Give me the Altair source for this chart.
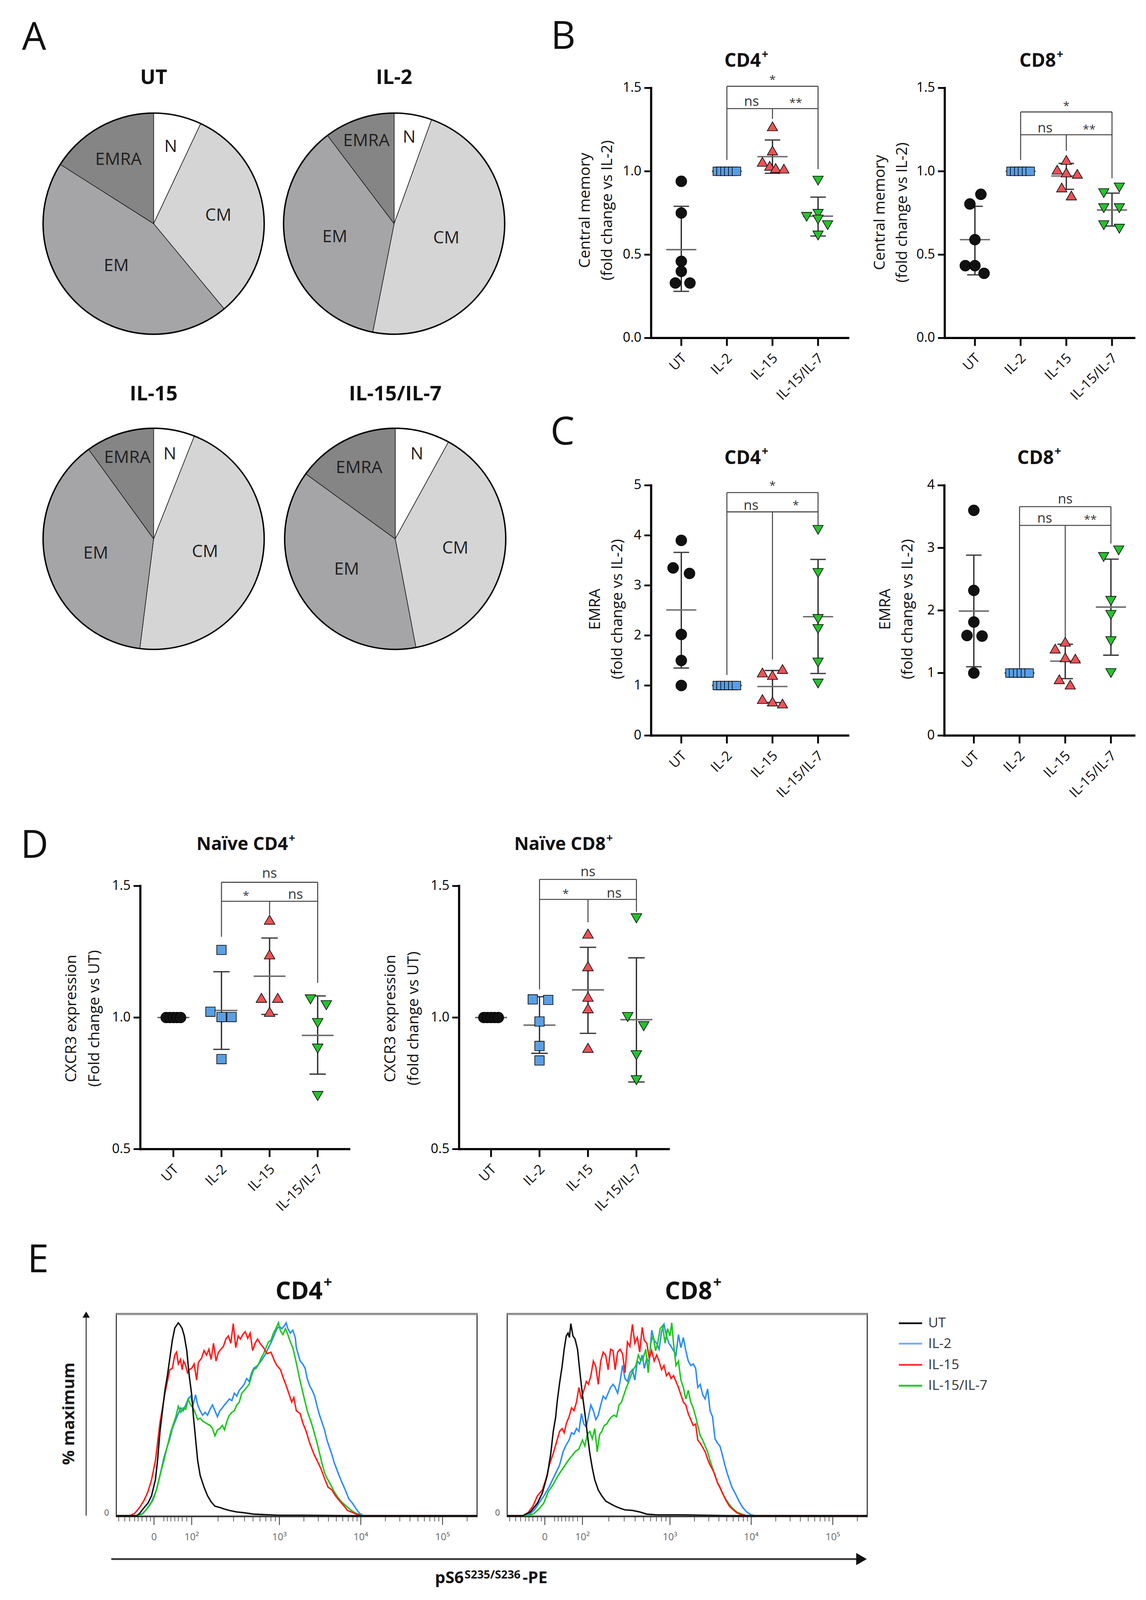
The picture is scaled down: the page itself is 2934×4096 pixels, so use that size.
import math
import altair as alt
import pandas as pd

# ============================================================ data
groups = ["UT", "IL-2", "IL-15", "IL-15/IL-7"]
subsets = ["N", "CM", "EM", "EMRA"]

# A: subset composition (% of cells)
pie_UT = [7.0, 32.0, 45.0, 16.0]
pie_IL2 = [5.5, 47.6, 36.6, 10.3]
pie_IL15 = [6.0, 46.0, 38.0, 10.0]
pie_IL15_IL7 = [8.0, 39.0, 38.0, 15.0]

# B: central memory (fold change vs IL-2)
cm_cd4 = [[0.94, 0.75, 0.46, 0.40, 0.33, 0.33],
          [1.0, 1.0, 1.0, 1.0, 1.0, 1.0],
          [1.27, 1.125, 1.057, 1.033, 1.02, 1.016],
          [0.944, 0.727, 0.745, 0.711, 0.677, 0.615]]
cm_cd4_mean = [0.53, 1.0, 1.088, 0.731]
cm_cd4_lo = [0.28, 1.0, 0.988, 0.612]
cm_cd4_hi = [0.79, 1.0, 1.188, 0.845]

cm_cd8 = [[0.862, 0.804, 0.59, 0.434, 0.434, 0.388],
          [1.0, 1.0, 1.0, 1.0, 1.0, 1.0],
          [1.068, 1.01, 0.993, 0.985, 0.903, 0.855],
          [0.869, 0.903, 0.779, 0.779, 0.677, 0.656]]
cm_cd8_mean = [0.59, 1.0, 0.972, 0.768]
cm_cd8_lo = [0.379, 1.0, 0.892, 0.672]
cm_cd8_hi = [0.79, 1.0, 1.047, 0.869]

# C: EMRA (fold change vs IL-2)
emra_cd4 = [[3.90, 3.35, 3.24, 2.02, 1.50, 1.00],
            [1.0, 1.0, 1.0, 1.0, 1.0, 1.0],
            [1.33, 1.26, 1.21, 0.73, 0.68, 0.64],
            [4.11, 3.25, 2.33, 2.13, 1.46, 1.04]]
emra_cd4_mean = [2.51, 1.0, 0.98, 2.375]
emra_cd4_lo = [1.35, 1.0, 0.66, 1.24]
emra_cd4_hi = [3.66, 1.0, 1.30, 3.52]

emra_cd8 = [[3.60, 2.32, 1.815, 1.60, 1.59, 1.0],
            [1.0, 1.0, 1.0, 1.0, 1.0, 1.0],
            [1.50, 1.39, 1.25, 1.23, 0.90, 0.815],
            [2.96, 2.855, 2.154, 1.93, 1.51, 1.0]]
emra_cd8_mean = [1.99, 1.0, 1.19, 2.054]
emra_cd8_lo = [1.10, 1.0, 0.91, 1.285]
emra_cd8_hi = [2.885, 1.0, 1.46, 2.82]

# D: CXCR3 expression (fold change vs UT)
cx_cd4 = [[1.0, 1.0, 1.0, 1.0, 1.0],
          [1.257, 1.022, 1.002, 1.002, 0.842],
          [1.372, 1.24, 1.075, 1.075, 1.022],
          [1.069, 1.047, 0.979, 0.882, 0.702]]
cx_cd4_mean = [1.0, 1.027, 1.157, 0.932]
cx_cd4_lo = [1.0, 0.879, 1.012, 0.785]
cx_cd4_hi = [1.0, 1.174, 1.302, 1.082]

cx_cd8 = [[1.0, 1.0, 1.0, 1.0, 1.0],
          [1.069, 1.067, 0.985, 0.892, 0.837],
          [1.319, 1.195, 1.079, 1.035, 0.885],
          [1.377, 1.002, 0.967, 0.857, 0.762]]
cx_cd8_mean = [1.0, 0.971, 1.105, 0.992]
cx_cd8_lo = [1.0, 0.864, 0.94, 0.755]
cx_cd8_hi = [1.0, 1.079, 1.267, 1.227]

# significance annotations (x in group index, y in data units)
sig_cm_cd4 = {"top": 1.51, "mid": 1.376, "legs": [(1, 1.51, 1.068), (3, 1.51, 1.013), (2, 1.376, 1.315)],
              "labels": [(2.0, 1.548, "*"), (1.54, 1.418, "ns"), (2.51, 1.408, "**")]}
sig_cm_cd8 = {"top": 1.356, "mid": 1.219, "legs": [(1, 1.356, 1.068), (3, 1.356, 0.958), (2, 1.219, 1.123)],
              "labels": [(2.0, 1.39, "*"), (1.535, 1.26, "ns"), (2.5, 1.25, "**")]}
sig_emra_cd4 = {"top": 4.856, "mid": 4.47, "legs": [(1, 4.856, 1.21), (3, 4.856, 4.19), (2, 4.47, 1.52)],
                "labels": [(2.0, 4.99, "*"), (1.53, 4.6, "ns"), (2.51, 4.6, "*")]}
sig_emra_cd8 = {"top": 3.66, "mid": 3.36, "legs": [(1, 3.66, 1.03), (3, 3.66, 3.07), (2, 3.36, 1.565)],
                "labels": [(2.0, 3.78, "ns"), (1.55, 3.47, "ns"), (2.55, 3.45, "**")]}
sig_cx_cd4 = {"top": 1.514, "mid": 1.442, "legs": [(1, 1.514, 1.307), (3, 1.514, 1.132), (2, 1.442, 1.392)],
              "labels": [(2.0, 1.547, "ns"), (1.51, 1.462, "*"), (2.54, 1.467, "ns")]}
sig_cx_cd8 = {"top": 1.525, "mid": 1.449, "legs": [(1, 1.525, 1.107), (3, 1.525, 1.402), (2, 1.449, 1.362)],
              "labels": [(2.0, 1.554, "ns"), (1.54, 1.469, "*"), (2.54, 1.472, "ns")]}

# E: pS6 histograms (channel 0-1024, % of maximum)
cd4_UT = [(0, 0), (59, 0), (66, 1.1), (79, 4.2), (90, 6.5), (100, 10.3), (111, 18.6), (117, 28.5), (124, 43.7),
          (131, 54.4), (138, 65.0), (145, 72.6), (152, 81.7), (159, 90.9), (166, 97.3), (173, 99.2), (176, 100),
          (181, 98.9), (187, 97.0), (193, 93.2), (200, 85.6), (207, 72.6), (214, 62.7), (219, 51.3), (225, 39.9),
          (231, 28.5), (238, 20.9), (249, 14.8), (259, 10.3), (269, 7.2), (280, 4.9), (294, 4.2), (307, 3.4),
          (321, 2.7), (342, 1.9), (363, 1.5), (390, 0.8), (425, 0.5), (460, 0.2), (529, 0.2), (667, 0), (1024, 0)]
cd4_IL2 = [(0, 0), (59, 0), (73, 0.8), (86, 3.4), (100, 7.2), (114, 13.3), (124, 20.9), (135, 30.0), (145, 36.1),
           (152, 39.9), (159, 45.2), (169, 49.8), (176, 52.9), (183, 55.9), (190, 54.4), (197, 57.4), (204, 60.5),
           (211, 62.0), (218, 57.4), (225, 62.7), (231, 57.4), (238, 54.4), (245, 52.1), (252, 53.6), (259, 52.1),
           (266, 55.1), (273, 57.4), (280, 54.4), (287, 51.3), (294, 54.4), (301, 55.9), (307, 57.4), (314, 58.9),
           (321, 60.5), (328, 59.7), (335, 63.5), (342, 62.0), (349, 65.0), (356, 66.5), (363, 68.1), (370, 71.1),
           (377, 69.6), (384, 74.1), (390, 76.4), (401, 77.9), (411, 80.2), (422, 83.3), (432, 87.1), (440, 90.1),
           (449, 93.9), (456, 97.0), (463, 98.1), (470, 97.0), (477, 98.5), (482, 100), (487, 97.0), (494, 94.7),
           (501, 96.2), (508, 92.4), (511, 87.1), (522, 80.2), (529, 78.7), (536, 76.4), (542, 71.1), (549, 67.3),
           (556, 65.0), (563, 62.0), (570, 56.7), (577, 52.1), (584, 48.3), (591, 44.5), (598, 39.2), (605, 35.4),
           (612, 31.6), (618, 27.8), (629, 22.4), (639, 17.9), (650, 13.3), (660, 8.7), (670, 6.5), (681, 3.4),
           (691, 1.1), (701, 0), (1024, 0)]
cd4_IL15 = [(0, 0), (38, 0), (52, 1.1), (66, 4.2), (79, 8.0), (90, 12.5), (100, 18.6), (111, 28.5), (117, 37.6),
            (124, 48.3), (129, 53.6), (138, 63.5), (145, 69.6), (152, 75.7), (159, 76.4), (166, 83.3), (171, 84.8),
            (176, 78.7), (182, 81.0), (187, 75.7), (191, 80.2), (197, 77.9), (202, 74.1), (207, 75.7), (214, 76.4),
            (221, 78.7), (228, 70.3), (233, 79.5), (242, 81.7), (249, 85.6), (256, 83.3), (263, 86.3), (269, 81.0),
            (276, 89.4), (283, 80.2), (290, 84.8), (297, 86.3), (304, 87.8), (311, 91.6), (318, 93.2), (325, 89.4),
            (332, 99.6), (339, 87.1), (346, 93.2), (352, 91.6), (359, 93.9), (366, 95.4), (373, 92.0), (380, 94.7),
            (387, 85.6), (394, 89.4), (401, 91.6), (408, 89.4), (418, 87.1), (428, 84.0), (439, 84.8), (449, 80.2),
            (456, 77.9), (466, 75.7), (473, 71.9), (484, 66.5), (491, 62.7), (498, 58.9), (504, 61.2), (511, 54.4),
            (522, 52.9), (529, 48.3), (539, 43.7), (549, 37.6), (560, 32.3), (570, 28.5), (580, 24.7), (591, 19.4),
            (601, 14.8), (612, 13.3), (622, 10.3), (636, 7.2), (650, 4.2), (656, 2.7), (667, 1.9), (681, 0.8),
            (694, 0), (1024, 0)]
cd4_IL15_IL7 = [(0, 0), (62, 0), (76, 1.1), (90, 4.2), (104, 8.0), (114, 13.3), (124, 20.9), (135, 28.5), (145, 36.1),
                (155, 43.7), (162, 47.5), (169, 51.3), (176, 56.7), (183, 53.6), (190, 55.9), (197, 55.1), (204, 60.5),
                (211, 57.4), (218, 55.9), (225, 52.9), (231, 49.8), (238, 50.6), (245, 49.0), (252, 48.3), (259, 47.5),
                (266, 46.8), (273, 45.2), (280, 41.4), (287, 44.5), (294, 45.2), (301, 46.8), (307, 44.5), (314, 49.0),
                (321, 52.1), (328, 53.6), (335, 54.4), (342, 57.4), (349, 58.9), (356, 63.5), (363, 65.0), (370, 66.5),
                (377, 68.1), (384, 72.6), (390, 75.7), (397, 76.4), (404, 78.7), (411, 81.7), (418, 84.0), (425, 87.1),
                (432, 90.1), (439, 90.9), (446, 94.7), (453, 97.0), (460, 100), (466, 95.8), (473, 93.9), (480, 97.0),
                (487, 93.9), (494, 90.1), (501, 87.1), (508, 81.7), (515, 75.7), (522, 69.6), (529, 64.3), (536, 58.9),
                (542, 54.4), (549, 50.6), (556, 46.8), (563, 42.2), (570, 37.6), (577, 32.3), (584, 27.0), (591, 22.4),
                (598, 19.4), (608, 16.3), (618, 12.5), (629, 9.5), (639, 7.2), (653, 4.9), (667, 2.7), (681, 1.1),
                (698, 0), (1024, 0)]
cd8_UT = [(0, 0), (45, 0), (66, 1.9), (86, 6.5), (100, 11.8), (114, 20.9), (124, 32.3), (131, 43.7), (138, 51.3),
          (142, 58.9), (149, 68.8), (156, 77.2), (162, 86.3), (168, 93.2), (173, 94.7), (177, 92.4), (181, 99.6),
          (187, 93.2), (193, 91.6), (200, 86.3), (207, 74.1), (214, 62.7), (221, 52.9), (228, 42.2), (235, 32.3),
          (242, 24.7), (249, 18.6), (259, 13.3), (269, 10.3), (280, 7.6), (294, 6.1), (307, 4.9), (321, 3.8),
          (335, 3.0), (356, 2.7), (377, 1.9), (397, 0.8), (425, 0.4), (494, 0.4), (563, 0.2), (632, 0), (1024, 0)]
cd8_IL2 = [(0, 0), (52, 0), (66, 1.1), (79, 3.4), (93, 7.2), (107, 11.0), (121, 15.6), (135, 20.9), (149, 26.2),
           (159, 33.1), (166, 36.1), (176, 39.2), (183, 43.0), (190, 42.2), (197, 45.2), (204, 43.7), (211, 52.9),
           (218, 47.5), (225, 46.0), (231, 51.3), (238, 57.4), (245, 54.4), (252, 49.8), (259, 52.1), (266, 57.4),
           (273, 62.0), (280, 60.5), (287, 63.5), (294, 66.5), (301, 68.1), (307, 66.5), (314, 63.5), (321, 69.6),
           (328, 77.9), (335, 71.1), (342, 69.6), (349, 74.1), (356, 75.7), (363, 70.3), (370, 80.2), (377, 78.7),
           (384, 83.3), (390, 76.4), (397, 81.7), (404, 79.5), (411, 96.2), (418, 90.9), (425, 89.4), (432, 86.3),
           (439, 95.4), (446, 99.2), (453, 93.2), (460, 89.4), (466, 87.8), (473, 85.6), (480, 83.3), (487, 93.9),
           (494, 87.1), (501, 92.4), (508, 85.6), (515, 80.2), (522, 77.9), (529, 78.7), (536, 76.4), (542, 66.5),
           (549, 68.1), (556, 62.7), (563, 60.5), (570, 65.7), (577, 54.4), (584, 51.3), (591, 39.9), (598, 37.6),
           (605, 36.1), (612, 31.6), (618, 27.0), (625, 22.4), (632, 18.6), (639, 14.8), (650, 11.0), (660, 7.2),
           (670, 4.2), (681, 1.9), (694, 0.4), (705, 0), (1024, 0)]
cd8_IL15 = [(0, 0), (45, 0), (59, 1.5), (73, 4.9), (86, 10.3), (100, 13.3), (111, 19.4), (121, 27.0), (131, 32.3),
            (142, 39.2), (149, 43.7), (156, 45.2), (162, 43.0), (169, 48.3), (176, 51.3), (183, 55.9), (190, 54.4),
            (197, 58.9), (204, 66.5), (211, 60.5), (218, 65.0), (225, 69.6), (231, 68.1), (238, 72.6), (245, 80.2),
            (252, 77.2), (259, 68.1), (266, 80.2), (273, 84.8), (280, 83.3), (287, 75.7), (294, 86.3), (301, 85.6),
            (307, 75.7), (314, 84.8), (321, 86.3), (328, 84.0), (335, 74.1), (342, 90.1), (349, 87.8), (356, 99.2),
            (363, 89.4), (370, 92.4), (377, 84.8), (384, 97.7), (390, 90.9), (397, 89.4), (404, 81.7), (411, 85.6),
            (418, 80.2), (425, 83.3), (432, 80.2), (439, 75.7), (446, 77.9), (453, 72.6), (460, 74.1), (466, 71.1),
            (473, 72.6), (480, 69.6), (487, 66.5), (494, 62.7), (501, 58.9), (508, 57.4), (515, 52.9), (522, 49.8),
            (529, 46.8), (536, 47.5), (542, 39.2), (549, 37.6), (556, 35.4), (563, 33.1), (570, 29.3), (577, 26.2),
            (584, 24.0), (591, 20.9), (598, 17.1), (605, 14.8), (612, 11.8), (622, 8.0), (632, 4.9), (643, 3.0),
            (653, 1.5), (667, 0.4), (681, 0), (1024, 0)]
cd8_IL15_IL7 = [(0, 0), (62, 0), (76, 1.1), (90, 3.4), (104, 6.5), (117, 12.5), (131, 16.3), (145, 20.9), (159, 24.7),
                (173, 28.5), (183, 30.8), (193, 33.1), (204, 34.6), (214, 39.2), (221, 36.1), (228, 42.2), (235, 43.7),
                (242, 39.9), (249, 45.2), (256, 33.1), (263, 42.2), (269, 43.7), (276, 46.8), (283, 47.5), (290, 49.8),
                (297, 51.3), (304, 52.1), (311, 51.3), (318, 57.4), (325, 58.9), (332, 62.7), (339, 66.5), (346, 69.6),
                (352, 72.6), (359, 75.7), (366, 77.9), (373, 83.3), (380, 80.2), (387, 81.7), (394, 86.3), (401, 74.1),
                (408, 89.4), (415, 93.2), (422, 85.6), (428, 89.4), (435, 97.0), (442, 98.5), (449, 89.4), (456, 97.0),
                (463, 93.2), (468, 100), (473, 89.4), (480, 77.9), (487, 80.2), (494, 70.3), (501, 66.5), (508, 60.5),
                (515, 65.0), (522, 58.9), (529, 55.9), (536, 51.3), (542, 46.8), (549, 41.4), (556, 39.2), (563, 36.1),
                (570, 33.1), (577, 28.5), (584, 24.7), (591, 20.9), (598, 17.1), (608, 13.3), (618, 9.5), (629, 6.5),
                (639, 4.2), (653, 1.9), (667, 0.8), (681, 0), (1024, 0)]

# flow axis ticks (channel positions) and labels
e_major_ticks = [107, 214, 463, 694, 926]
e_major_labels = ["0", "10²", "10³", "10⁴", "10⁵"]
e_low_ticks = [7, 24, 38, 52, 62, 73, 86, 97, 135, 145, 155, 166, 176, 187, 200]

# ============================================================ layout / style
FONT = "Open Sans"
S = 0.919
W, H = 2916, 4076


def P(v):          # reference pixel -> chart pixel
    return round(v * S - 8, 2)


def L(v):          # reference length -> chart length
    return round(v * S, 2)


ONE = pd.DataFrame({"k": [0]})


def txt(s, x, y, size, weight="normal", angle=None, align="center", baseline="middle", color="#111111"):
    kw = dict(text=s, font=FONT, fontSize=size, fontWeight=weight, align=align, baseline=baseline, color=color)
    if angle is not None:
        kw["angle"] = angle
    return alt.Chart(ONE).mark_text(**kw).encode(x=alt.value(P(x)), y=alt.value(P(y)))


def sup_title(base, em, cx, cy, size):
    """Bold title with a raised '+' (em = approximate width of base text in ems)."""
    wb, wp = em * size, 0.57 * 0.62 * size
    xs = P(cx) + (wb - wp) / 2
    a = alt.Chart(ONE).mark_text(text=base, font=FONT, fontSize=size, fontWeight="bold", align="right",
                                 baseline="middle", color="#111111").encode(x=alt.value(xs), y=alt.value(P(cy)))
    b = alt.Chart(ONE).mark_text(text="+", font=FONT, fontSize=round(size * 0.62), fontWeight="bold", align="left",
                                 baseline="middle", color="#111111").encode(
        x=alt.value(xs + size * 0.04), y=alt.value(P(cy) - size * 0.36))
    return [a, b]


def hline(x1, x2, y, color, width, cap="butt"):
    return alt.Chart(ONE).mark_rule(color=color, strokeWidth=width, strokeCap=cap).encode(
        x=alt.value(P(x1)), x2=alt.value(P(x2)), y=alt.value(P(y)))


def vline(x, y1, y2, color, width, cap="butt"):
    return alt.Chart(ONE).mark_rule(color=color, strokeWidth=width, strokeCap=cap).encode(
        x=alt.value(P(x)), y=alt.value(P(y1)), y2=alt.value(P(y2)))


# ---------------------------------------------------------------- pies
PIE_FILL = ["#ffffff", "#d5d5d5", "#a5a5a8", "#858585"]
R_PIE = 308
TWO_PI = 2 * math.pi


def pie(vals, label_r, cx, cy, title, ty):
    df = pd.DataFrame({"subset": subsets, "pct": vals, "idx": [0, 1, 2, 3],
                       "lr": [L(f * R_PIE) for f in label_r]})
    th_scale = alt.Scale(domain=[0, 100], range=[0, TWO_PI])
    arcs = alt.Chart(df).mark_arc(radius=L(R_PIE), stroke="#1a1a1a", strokeWidth=1.6).encode(
        theta=alt.Theta("pct:Q", stack=True, scale=th_scale), order=alt.Order("idx:Q"),
        x=alt.value(P(cx)), y=alt.value(P(cy)),
        color=alt.Color("subset:N", scale=alt.Scale(domain=subsets, range=PIE_FILL), legend=None))
    ring = alt.Chart(ONE).mark_point(shape="circle", size=(2 * L(R_PIE)) ** 2, filled=False,
                                     stroke="#000000", strokeWidth=3.6, opacity=1).encode(
        x=alt.value(P(cx)), y=alt.value(P(cy)))
    labels = (alt.Chart(df)
              .transform_window(cum="sum(pct)", sort=[alt.SortField("idx")], frame=[None, 0])
              .transform_calculate(mid="datum.cum - datum.pct / 2")
              .mark_text(font=FONT, fontSize=44, color="#1f1f1f")
              .encode(theta=alt.Theta("mid:Q", stack=None, scale=th_scale),
                      x=alt.value(P(cx)), y=alt.value(P(cy)),
                      radius=alt.Radius("lr:Q", scale=None), text="subset:N"))
    return alt.layer(arcs, ring, labels, txt(title, cx, ty, 52, "bold"))


# ---------------------------------------------------------------- scatter panels
SHAPES = ["circle", "square", "triangle-up", "triangle-down"]
FILLS = ["#111111", "#5a9fe3", "#ec5257", "#27c12f"]
BR_C = "#444444"
AX_W = L(6)


def scatter(vals, mean, lo, hi, jit, geo, ticks, fmt, br, sizes):
    ax, first, step, end, y0, y1, dom = geo
    last = first + 3 * step
    xs = alt.Scale(domain=[(ax - first) / step, 3 + (end - last) / step], range=[P(ax), P(end)],
                   nice=False, zero=False)
    ys = alt.Scale(domain=dom, range=[P(y0), P(y1)], nice=False, zero=False)

    def xq(f):
        return alt.X(f"{f}:Q", scale=xs, axis=None)

    def yq(f):
        return alt.Y(f"{f}:Q", scale=ys, axis=None)

    layers = []
    # --- axes (drawn with the panel's own scales)
    layers.append(vline(ax, y0, y1, "#000000", AX_W, "square"))
    layers.append(hline(ax, end, y0, "#000000", AX_W, "square"))
    yt = pd.DataFrame({"v": ticks})
    layers.append(alt.Chart(yt).mark_rule(color="#000000", strokeWidth=L(5)).encode(
        y=yq("v"), x=alt.value(P(ax) - L(19)), x2=alt.value(P(ax))))
    layers.append(alt.Chart(yt).mark_text(font=FONT, fontSize=34, color="#000000", align="right",
                                          baseline="middle").encode(
        y=yq("v"), x=alt.value(P(ax) - L(27)), text=alt.Text("v:Q", format=fmt)))
    xt = pd.DataFrame({"i": [0, 1, 2, 3], "g": groups})
    layers.append(alt.Chart(xt).mark_rule(color="#000000", strokeWidth=L(5)).encode(
        x=xq("i"), y=alt.value(P(y0)), y2=alt.value(P(y0) + L(22))))
    layers.append(alt.Chart(xt).mark_text(font=FONT, fontSize=35, color="#111111", align="right",
                                          baseline="middle", angle=315).encode(
        x=alt.X("i:Q", scale=xs, axis=None), y=alt.value(P(y0) + L(50)), text="g:N",
        xOffset=alt.value(L(8))))

    # --- significance brackets
    bh = pd.DataFrame({"x": [1, 1], "x2": [3, 3], "y": [br["top"], br["mid"]]})
    layers.append(alt.Chart(bh).mark_rule(color=BR_C, strokeWidth=L(2.8)).encode(
        x=xq("x"), x2="x2:Q", y=yq("y")))
    bv = pd.DataFrame(br["legs"], columns=["x", "y", "y2"])
    layers.append(alt.Chart(bv).mark_rule(color=BR_C, strokeWidth=L(2.8)).encode(
        x=xq("x"), y=yq("y"), y2="y2:Q"))

    # --- mean +/- SD
    rows_m, rows_c, rows_v = [], [], []
    for i in range(4):
        rows_m.append({"x": i - 0.33, "x2": i + 0.33, "y": mean[i]})
        if hi[i] > lo[i]:
            rows_v.append({"x": i, "y": lo[i], "y2": hi[i]})
            rows_c.append({"x": i - 0.17, "x2": i + 0.17, "y": lo[i]})
            rows_c.append({"x": i - 0.17, "x2": i + 0.17, "y": hi[i]})
    layers.append(alt.Chart(pd.DataFrame(rows_v)).mark_rule(color="#2a2a2a", strokeWidth=L(3.6)).encode(
        x=xq("x"), y=yq("y"), y2="y2:Q"))
    layers.append(alt.Chart(pd.DataFrame(rows_c)).mark_rule(color="#3a3a3a", strokeWidth=L(3.6)).encode(
        x=xq("x"), x2="x2:Q", y=yq("y")))
    layers.append(alt.Chart(pd.DataFrame(rows_m)).mark_rule(color="#6a6a6a", strokeWidth=L(4)).encode(
        x=xq("x"), x2="x2:Q", y=yq("y")))

    # --- points
    for i in range(4):
        df = pd.DataFrame({"x": [i + j for j in jit[i]], "y": vals[i]})
        layers.append(alt.Chart(df).mark_point(shape=SHAPES[i], filled=True, fill=FILLS[i], stroke="#000000",
                                               strokeWidth=1.6, size=sizes[i], opacity=1).encode(
            x=xq("x"), y=yq("y")))

    bt = pd.DataFrame(br["labels"], columns=["x", "y", "t"])
    bt["sz"] = [30 if "*" in t else 35 for t in bt["t"]]
    layers.append(alt.Chart(bt).mark_text(font=FONT, color="#333333", baseline="middle").encode(
        x=xq("x"), y=yq("y"), text="t:N", size=alt.Size("sz:Q", scale=None)))
    return alt.layer(*layers)


# geometry: (y-axis x, first category x, category step, x-axis end, y of domain min, y of domain max, domain)
G_B4 = (1814, 1898, 127.0, 2363, 941.6, 245, [0, 1.5])
G_B8 = (2632, 2716, 127.3, 3160, 941.6, 245, [0, 1.5])
G_C4 = (1814, 1898, 127.0, 2363, 2049, 1352, [0, 5])
G_C8 = (2631, 2713, 127.3, 3160, 2049, 1352, [0, 4])
G_D4 = (391, 483, 134.0, 973, 3201, 2468, [0.5, 1.5])
G_D8 = (1279, 1368, 135.0, 1863, 3201, 2468, [0.5, 1.5])

ROW6 = [-0.21, -0.13, -0.04, 0.04, 0.13, 0.21]
ROW5 = [-0.15, -0.075, 0.0, 0.075, 0.15]
jit_cm_cd4 = [[0, 0, 0, 0, -0.13, 0.19], ROW6, [0, 0, -0.22, -0.06, 0.07, 0.25], [0, -0.25, 0, 0, 0.21, 0]]
jit_cm_cd8 = [[0.13, -0.11, 0, -0.21, 0, 0.2], ROW6, [0, -0.2, 0, 0.24, -0.1, 0.11],
              [-0.18, 0.16, -0.18, 0.16, -0.18, 0.16]]
jit_emra_cd4 = [[0, -0.18, 0.18, 0, 0, 0], ROW6, [0.22, -0.22, 0, -0.22, 0, 0.22], [0, 0, 0, 0, 0, 0]]
jit_emra_cd8 = [[0, 0, 0, -0.15, 0.18, 0], ROW6, [0, -0.22, 0, 0.22, -0.13, 0.11], [0.17, -0.16, 0, 0, 0, 0]]
jit_cx_cd4 = [ROW5, [0, -0.23, 0, 0.21, 0], [0, 0, -0.17, 0.17, 0], [-0.15, 0.18, 0, 0, 0]]
jit_cx_cd8 = [ROW5, [-0.14, 0.18, 0, 0, 0], [0, 0, 0, 0, 0], [0, -0.18, 0.15, 0, 0]]

SIZES_BC = [760, 480, 700, 700]
SIZES_D = [740, 580, 740, 740]

# ---------------------------------------------------------------- histograms
E_Y0, E_Y100, E_TOP = 4222, 3685, 3659
HIST_C = {"UT": "#111111", "IL-2": "#2a8cf7", "IL-15": "#ff1c1c", "IL-15/IL-7": "#1dc71d"}
LEG_C = ["#111111", "#6aaeff", "#ff2d2d", "#1ccf1c"]

e_minor = list(e_low_ticks)
for a, b in zip(e_major_ticks[1:], e_major_ticks[2:]):
    e_minor += [a + math.log10(k) * (b - a) for k in range(2, 10)]
e_minor.append(e_major_ticks[-1] + math.log10(2) * (e_major_ticks[-1] - e_major_ticks[-2]))


def hist(curves, bl, brr):
    xs = alt.Scale(domain=[0, 1024], range=[P(bl), P(brr)], nice=False, zero=False)
    ys = alt.Scale(domain=[0, 100], range=[P(E_Y0), P(E_Y100)], nice=False, zero=False)
    layers = [hline(bl, brr, E_Y0 + 1, "#8a8a8a", L(5))]
    for pts, color in curves:
        df = pd.DataFrame(pts, columns=["ch", "pct"])
        layers.append(alt.Chart(df).mark_line(color=color, strokeWidth=L(4)).encode(
            x=alt.X("ch:Q", scale=xs, axis=None), y=alt.Y("pct:Q", scale=ys, axis=None)))
    layers.append(alt.Chart(ONE).mark_rect(fillOpacity=0, stroke="#1a1a1a", strokeWidth=L(2.6)).encode(
        x=alt.value(P(bl)), x2=alt.value(P(brr)), y=alt.value(P(E_TOP)), y2=alt.value(P(E_Y0 + 3))))
    layers.append(hline(bl, brr, E_TOP + 2, "#9a9a9a", L(5)))
    maj = pd.DataFrame({"ch": e_major_ticks, "lab": e_major_labels})
    mnr = pd.DataFrame({"ch": e_minor})
    layers.append(alt.Chart(mnr).mark_rule(color="#555555", strokeWidth=L(2)).encode(
        x=alt.X("ch:Q", scale=xs, axis=None), y=alt.value(P(E_Y0 + 4)), y2=alt.value(P(E_Y0 + 16))))
    layers.append(alt.Chart(maj).mark_rule(color="#444444", strokeWidth=L(2.4)).encode(
        x=alt.X("ch:Q", scale=xs, axis=None), y=alt.value(P(E_Y0 + 4)), y2=alt.value(P(E_Y0 + 26))))
    layers.append(alt.Chart(maj).mark_text(font=FONT, fontSize=25, color="#666666", baseline="middle").encode(
        x=alt.X("ch:Q", scale=xs, axis=None), y=alt.value(P(4282)), text="lab:N"))
    return alt.layer(*layers)


# ============================================================ assemble
L_ALL = []

# panel letters
for letter, lx, ly in [("A", 95, 107), ("B", 1569, 104), ("C", 1567, 1207), ("D", 96, 2358), ("E", 106, 3512)]:
    L_ALL.append(txt(letter, lx, ly, 98, "normal", color="#111111"))

# A
L_ALL.append(pie(pie_UT, [0.71, 0.59, 0.51, 0.66], 428, 623, "UT", 216))
L_ALL.append(pie(pie_IL2, [0.79, 0.49, 0.55, 0.79], 1098, 623, "IL-2", 216))
L_ALL.append(pie(pie_IL15, [0.78, 0.48, 0.54, 0.77], 428, 1501, "IL-15", 1098))
L_ALL.append(pie(pie_IL15_IL7, [0.79, 0.55, 0.52, 0.72], 1101, 1501, "IL-15/IL-7", 1098))

AT = dict(size=39, weight="normal", angle=270, color="#111111")

# B
L_ALL.append(scatter(cm_cd4, cm_cd4_mean, cm_cd4_lo, cm_cd4_hi, jit_cm_cd4, G_B4, [0, 0.5, 1.0, 1.5], ".1f",
                     sig_cm_cd4, SIZES_BC))
L_ALL.append(scatter(cm_cd8, cm_cd8_mean, cm_cd8_lo, cm_cd8_hi, jit_cm_cd8, G_B8, [0, 0.5, 1.0, 1.5], ".1f",
                     sig_cm_cd8, SIZES_BC))
L_ALL += sup_title("CD4", 1.95, 2078, 171, 48) + sup_title("CD8", 1.95, 2900, 171, 48)
L_ALL += [txt("Central memory", 1630, 586, **AT), txt("(fold change vs IL-2)", 1692, 586, **AT),
          txt("Central memory", 2452, 592, **AT), txt("(fold change vs IL-2)", 2514, 592, **AT)]

# C
L_ALL.append(scatter(emra_cd4, emra_cd4_mean, emra_cd4_lo, emra_cd4_hi, jit_emra_cd4, G_C4, [0, 1, 2, 3, 4, 5], "d",
                     sig_emra_cd4, SIZES_BC))
L_ALL.append(scatter(emra_cd8, emra_cd8_mean, emra_cd8_lo, emra_cd8_hi, jit_emra_cd8, G_C8, [0, 1, 2, 3, 4], "d",
                     sig_emra_cd8, SIZES_BC))
L_ALL += sup_title("CD4", 1.95, 2078, 1277, 48) + sup_title("CD8", 1.95, 2894, 1277, 48)
L_ALL += [txt("EMRA", 1658, 1697, **AT), txt("(fold change vs IL-2)", 1720, 1697, **AT),
          txt("EMRA", 2467, 1697, **AT), txt("(fold change vs IL-2)", 2529, 1697, **AT)]

# D
L_ALL.append(scatter(cx_cd4, cx_cd4_mean, cx_cd4_lo, cx_cd4_hi, jit_cx_cd4, G_D4, [0.5, 1.0, 1.5], ".1f",
                     sig_cx_cd4, SIZES_D))
L_ALL.append(scatter(cx_cd8, cx_cd8_mean, cx_cd8_lo, cx_cd8_hi, jit_cx_cd8, G_D8, [0.5, 1.0, 1.5], ".1f",
                     sig_cx_cd8, SIZES_D))
L_ALL += sup_title("Naïve CD4", 5.0, 686, 2353, 46) + sup_title("Naïve CD8", 5.0, 1571, 2353, 46)
L_ALL += [txt("CXCR3 expression", 199, 2837, **AT), txt("(Fold change vs UT)", 263, 2837, **AT),
          txt("CXCR3 expression", 1088, 2837, **AT), txt("(fold change vs UT)", 1152, 2837, **AT)]

# E
L_ALL.append(hist([(cd4_IL2, HIST_C["IL-2"]), (cd4_IL15_IL7, HIST_C["IL-15/IL-7"]),
                   (cd4_IL15, HIST_C["IL-15"]), (cd4_UT, HIST_C["UT"])], 324, 1329))
L_ALL.append(hist([(cd8_IL2, HIST_C["IL-2"]), (cd8_IL15_IL7, HIST_C["IL-15/IL-7"]),
                   (cd8_IL15, HIST_C["IL-15"]), (cd8_UT, HIST_C["UT"])], 1413, 2416))
L_ALL += sup_title("CD4", 1.95, 845, 3598, 62) + sup_title("CD8", 1.95, 1930, 3598, 62)
L_ALL += [txt("0", 297, 4214, 22, color="#555555"), txt("0", 1386, 4214, 22, color="#555555"),
          vline(240, 4222, 3668, "#222222", L(2.6)),
          alt.Chart(ONE).mark_point(shape="triangle-up", filled=True, color="#111111", size=L(20) ** 2, opacity=1)
          .encode(x=alt.value(P(240)), y=alt.value(P(3662))),
          hline(310, 2392, 4343, "#333333", L(5)),
          alt.Chart(ONE).mark_point(shape="triangle-right", filled=True, color="#111111", size=L(34) ** 2, opacity=1)
          .encode(x=alt.value(P(2400)), y=alt.value(P(4343))),
          txt("% maximum", 193, 3938, 42, "bold", angle=270, color="#1a1a1a"),
          txt("pS6", 1292, 4410, 42, "bold", align="right", baseline="alphabetic"),
          txt("S235/S236", 1294, 4397, 29, "bold", align="left", baseline="alphabetic"),
          txt("-PE", 1456, 4410, 42, "bold", align="left", baseline="alphabetic")]

for i, (g, ry) in enumerate(zip(groups, [3686, 3743, 3802, 3860])):
    L_ALL.append(hline(2504, 2569, ry, LEG_C[i], L(5)))
    L_ALL.append(txt(g, 2586, ry, 35, align="left", color="#333333"))

chart = (alt.layer(*L_ALL)
         .resolve_scale(x="independent", y="independent", theta="independent", color="independent")
         .properties(width=W, height=H, autosize=alt.AutoSizeParams(type="none"), padding=0)
         .configure_view(stroke=None))

chart.save("out.html", embed_options={"renderer": "svg", "actions": False})
